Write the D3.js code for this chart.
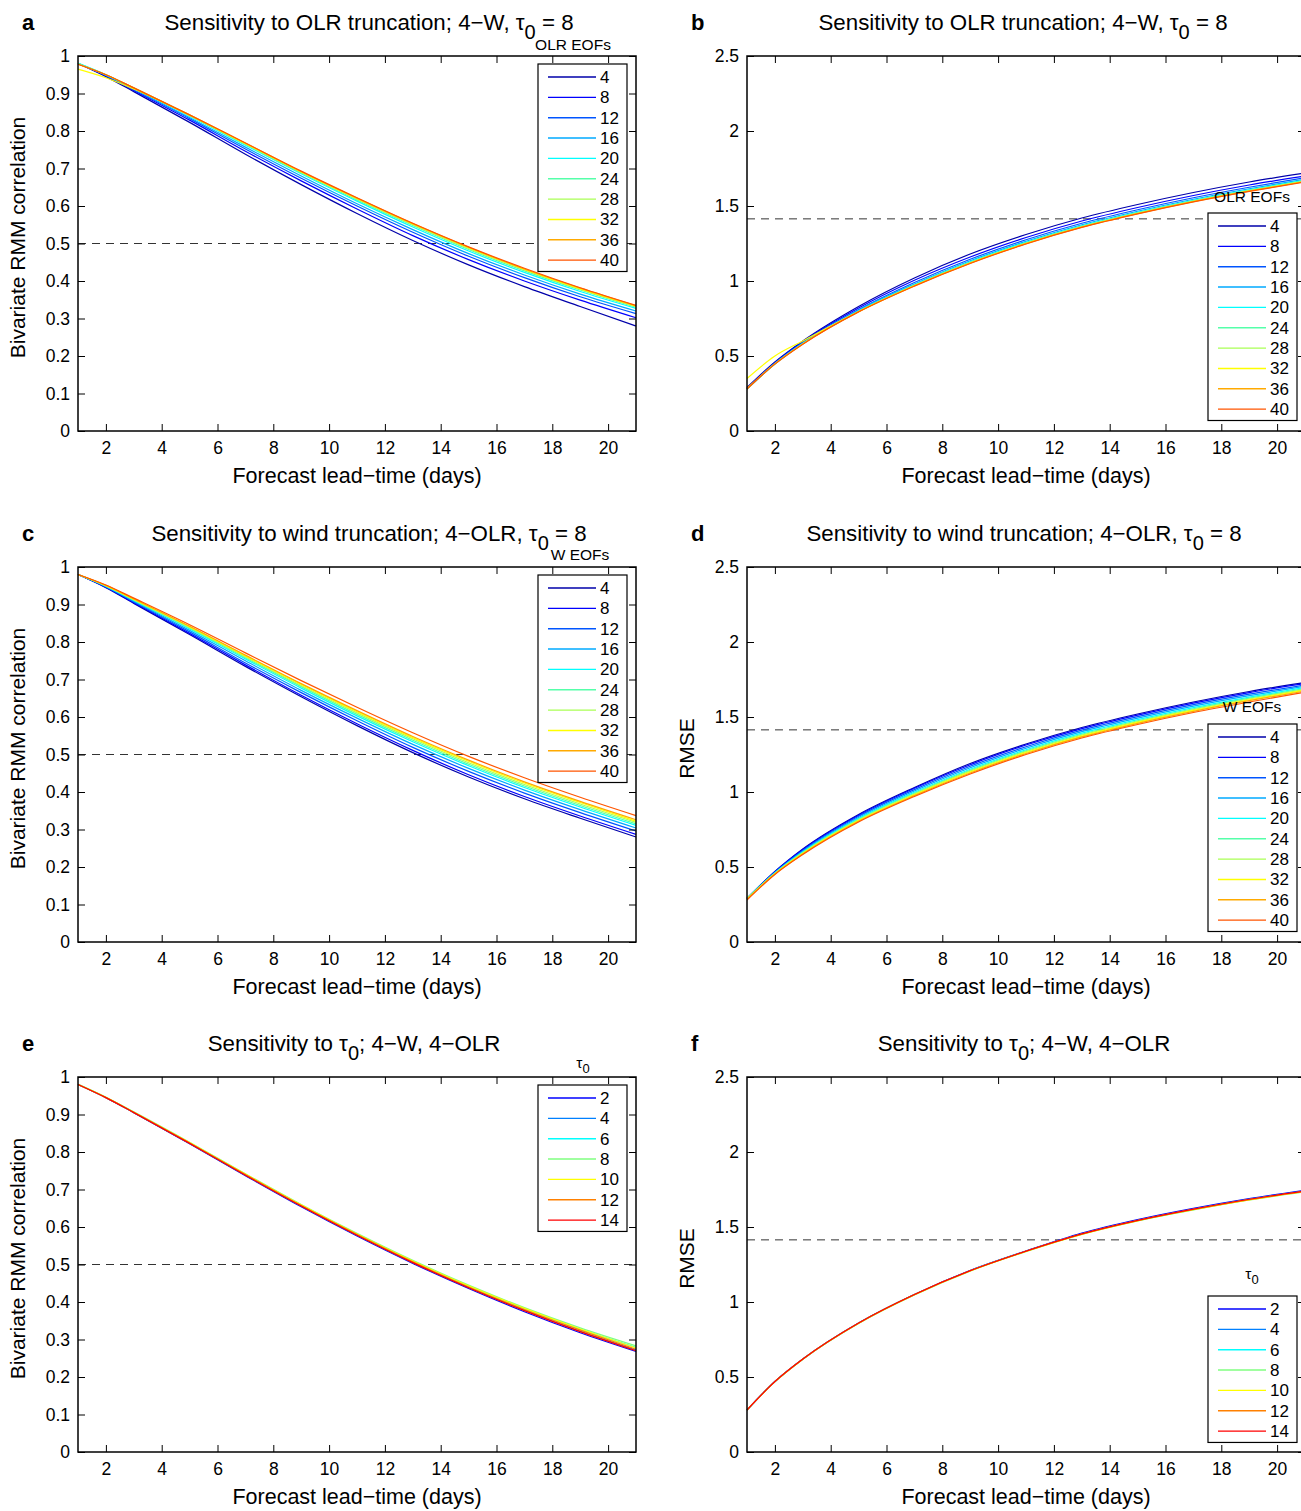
<!DOCTYPE html>
<html>
<head>
<meta charset="utf-8">
<title>Truncation sensitivity</title>
<script src="https://d3js.org/d3.v7.min.js"></script>
<style>
  body { margin: 0; background: #fff; }
  svg { display: block; font-family: "Liberation Sans", Arial, Helvetica, sans-serif; }
</style>
</head>
<body>
<div id="fig"></div>
<script>
// lead times (days) the curves are read at
var leadDays = [1, 2, 3, 5, 7, 9, 11, 13, 15, 17, 19, 21];
var dayTicks = [2, 4, 6, 8, 10, 12, 14, 16, 18, 20];
var corrTicks = [0, 0.1, 0.2, 0.3, 0.4, 0.5, 0.6, 0.7, 0.8, 0.9, 1];
var corrTickLabels = ["0", "0.1", "0.2", "0.3", "0.4", "0.5", "0.6", "0.7", "0.8", "0.9", "1"];
var rmseTicks = [0, 0.5, 1, 1.5, 2, 2.5];
var rmseTickLabels = ["0", "0.5", "1", "1.5", "2", "2.5"];

var eofCounts = [4, 8, 12, 16, 20, 24, 28, 32, 36, 40];
var tauValues = [2, 4, 6, 8, 10, 12, 14];

// jet colormaps as matlab draws them
var jet10 = ["#0000aa", "#0000ff", "#0055ff", "#00aaff", "#00ffff",
             "#55ffaa", "#aaff55", "#ffff00", "#ffaa00", "#ff5500"];
var jet7 = ["#0000ff", "#0080ff", "#00ffff", "#80ff80", "#ffff00", "#ff8000", "#ff0000"];

// a: correlation, OLR truncation
var corrOlr = [
  [0.98, 0.945, 0.905, 0.823, 0.738, 0.657, 0.58, 0.508, 0.443, 0.385, 0.332, 0.28],
  [0.98, 0.947, 0.908, 0.829, 0.746, 0.667, 0.592, 0.521, 0.457, 0.4, 0.349, 0.302],
  [0.98, 0.948, 0.91, 0.833, 0.752, 0.674, 0.6, 0.53, 0.466, 0.409, 0.358, 0.313],
  [0.98, 0.949, 0.912, 0.836, 0.757, 0.68, 0.606, 0.537, 0.473, 0.416, 0.365, 0.32],
  [0.981, 0.95, 0.914, 0.84, 0.762, 0.686, 0.613, 0.544, 0.48, 0.423, 0.372, 0.327],
  [0.98, 0.95, 0.914, 0.841, 0.764, 0.688, 0.616, 0.548, 0.484, 0.427, 0.376, 0.33],
  [0.979, 0.95, 0.915, 0.842, 0.766, 0.69, 0.619, 0.551, 0.487, 0.43, 0.378, 0.332],
  [0.965, 0.942, 0.912, 0.842, 0.766, 0.691, 0.62, 0.552, 0.489, 0.431, 0.379, 0.333],
  [0.978, 0.95, 0.915, 0.843, 0.768, 0.692, 0.621, 0.553, 0.49, 0.432, 0.381, 0.334],
  [0.978, 0.95, 0.915, 0.843, 0.768, 0.693, 0.622, 0.554, 0.491, 0.434, 0.382, 0.335]
];
// b: rmse, OLR truncation
var rmseOlr = [
  [0.29, 0.46, 0.6, 0.83, 1.02, 1.18, 1.31, 1.42, 1.51, 1.59, 1.66, 1.72],
  [0.285, 0.455, 0.595, 0.82, 1.005, 1.16, 1.29, 1.4, 1.49, 1.57, 1.64, 1.70],
  [0.28, 0.45, 0.59, 0.81, 0.99, 1.145, 1.275, 1.385, 1.475, 1.555, 1.625, 1.688],
  [0.28, 0.45, 0.585, 0.805, 0.98, 1.135, 1.265, 1.375, 1.465, 1.545, 1.615, 1.678],
  [0.28, 0.448, 0.583, 0.8, 0.975, 1.128, 1.258, 1.368, 1.458, 1.538, 1.608, 1.672],
  [0.28, 0.447, 0.582, 0.798, 0.972, 1.124, 1.254, 1.364, 1.455, 1.535, 1.605, 1.669],
  [0.28, 0.447, 0.581, 0.796, 0.97, 1.122, 1.252, 1.362, 1.452, 1.532, 1.602, 1.666],
  [0.35, 0.5, 0.6, 0.796, 0.969, 1.12, 1.25, 1.36, 1.45, 1.53, 1.6, 1.664],
  [0.285, 0.448, 0.58, 0.795, 0.968, 1.119, 1.249, 1.359, 1.449, 1.529, 1.599, 1.663],
  [0.28, 0.446, 0.579, 0.794, 0.966, 1.117, 1.247, 1.357, 1.447, 1.527, 1.597, 1.66]
];
// c: correlation, wind truncation
var corrWind = [
  [0.98, 0.945, 0.903, 0.82, 0.735, 0.654, 0.577, 0.505, 0.44, 0.382, 0.33, 0.28],
  [0.98, 0.946, 0.905, 0.823, 0.739, 0.658, 0.582, 0.511, 0.446, 0.388, 0.336, 0.287],
  [0.98, 0.947, 0.907, 0.827, 0.744, 0.665, 0.59, 0.519, 0.455, 0.397, 0.345, 0.296],
  [0.98, 0.948, 0.909, 0.831, 0.75, 0.671, 0.597, 0.527, 0.463, 0.405, 0.353, 0.304],
  [0.98, 0.949, 0.911, 0.835, 0.755, 0.677, 0.603, 0.534, 0.47, 0.412, 0.36, 0.311],
  [0.98, 0.95, 0.912, 0.837, 0.758, 0.681, 0.607, 0.538, 0.474, 0.416, 0.364, 0.315],
  [0.98, 0.95, 0.913, 0.839, 0.761, 0.684, 0.611, 0.542, 0.478, 0.42, 0.368, 0.319],
  [0.98, 0.95, 0.914, 0.841, 0.763, 0.687, 0.614, 0.545, 0.482, 0.424, 0.372, 0.322],
  [0.98, 0.951, 0.915, 0.842, 0.765, 0.689, 0.617, 0.548, 0.485, 0.427, 0.375, 0.326],
  [0.98, 0.952, 0.917, 0.846, 0.771, 0.697, 0.626, 0.558, 0.495, 0.438, 0.386, 0.337]
];
// d: rmse, wind truncation
var rmseWind = [
  [0.29, 0.47, 0.62, 0.85, 1.03, 1.19, 1.32, 1.43, 1.52, 1.6, 1.67, 1.73],
  [0.29, 0.468, 0.616, 0.845, 1.025, 1.182, 1.313, 1.423, 1.513, 1.593, 1.663, 1.723],
  [0.29, 0.465, 0.61, 0.838, 1.016, 1.172, 1.302, 1.412, 1.502, 1.582, 1.652, 1.714],
  [0.29, 0.462, 0.605, 0.83, 1.007, 1.162, 1.292, 1.402, 1.492, 1.572, 1.642, 1.705],
  [0.29, 0.46, 0.6, 0.823, 0.998, 1.152, 1.282, 1.392, 1.482, 1.562, 1.632, 1.697],
  [0.29, 0.458, 0.596, 0.818, 0.992, 1.145, 1.275, 1.385, 1.475, 1.555, 1.626, 1.69],
  [0.29, 0.456, 0.593, 0.813, 0.986, 1.139, 1.269, 1.379, 1.469, 1.549, 1.62, 1.684],
  [0.285, 0.455, 0.59, 0.809, 0.981, 1.133, 1.263, 1.373, 1.464, 1.544, 1.615, 1.679],
  [0.285, 0.453, 0.587, 0.805, 0.976, 1.127, 1.257, 1.367, 1.458, 1.538, 1.609, 1.673],
  [0.28, 0.45, 0.583, 0.8, 0.97, 1.12, 1.25, 1.36, 1.45, 1.53, 1.6, 1.665]
];
// e: correlation, tau0
var corrTau = [
  [0.98, 0.945, 0.905, 0.822, 0.737, 0.654, 0.576, 0.503, 0.436, 0.374, 0.318, 0.268],
  [0.98, 0.945, 0.905, 0.823, 0.738, 0.656, 0.578, 0.505, 0.439, 0.378, 0.322, 0.272],
  [0.98, 0.946, 0.906, 0.824, 0.74, 0.658, 0.58, 0.508, 0.442, 0.382, 0.327, 0.279],
  [0.981, 0.946, 0.907, 0.826, 0.742, 0.66, 0.583, 0.511, 0.445, 0.385, 0.331, 0.283],
  [0.98, 0.946, 0.906, 0.825, 0.741, 0.659, 0.581, 0.509, 0.443, 0.383, 0.328, 0.278],
  [0.98, 0.945, 0.906, 0.824, 0.74, 0.657, 0.58, 0.507, 0.44, 0.38, 0.325, 0.274],
  [0.98, 0.945, 0.905, 0.823, 0.738, 0.656, 0.578, 0.505, 0.438, 0.377, 0.321, 0.27]
];
// f: rmse, tau0
var rmseTau = [
  [0.28, 0.47, 0.62, 0.86, 1.05, 1.21, 1.34, 1.46, 1.55, 1.625, 1.69, 1.745],
  [0.28, 0.47, 0.62, 0.86, 1.05, 1.21, 1.34, 1.455, 1.545, 1.62, 1.686, 1.742],
  [0.28, 0.469, 0.619, 0.859, 1.049, 1.208, 1.338, 1.452, 1.542, 1.616, 1.682, 1.737],
  [0.28, 0.468, 0.618, 0.857, 1.047, 1.206, 1.336, 1.45, 1.54, 1.614, 1.68, 1.734],
  [0.28, 0.469, 0.619, 0.858, 1.048, 1.207, 1.337, 1.451, 1.541, 1.615, 1.681, 1.736],
  [0.28, 0.469, 0.619, 0.859, 1.049, 1.208, 1.338, 1.452, 1.542, 1.617, 1.683, 1.738],
  [0.28, 0.47, 0.62, 0.86, 1.05, 1.209, 1.339, 1.454, 1.544, 1.619, 1.685, 1.74]
];

var W = 1301, H = 1511;
var svg = d3.select("#fig").append("svg").attr("width", W).attr("height", H);

var colX = [78, 747], plotW = 558;
var rowY = [56, 567, 1077], plotH = 375;

var panels = [
  {id: "a", col: 0, row: 0, title: ["Sensitivity to OLR truncation; 4\u2212W, \u03c4", "0", " = 8"], tcx: 369,
   kind: "corr", data: corrOlr, names: eofCounts, colors: jet10, legTitle: "OLR EOFs", legTx: 573, legTy: 50,
   legX: 538, legY: 64, ylabel: "Bivariate RMM correlation"},
  {id: "b", col: 1, row: 0, title: ["Sensitivity to OLR truncation; 4\u2212W, \u03c4", "0", " = 8"], tcx: 1023,
   kind: "rmse", data: rmseOlr, names: eofCounts, colors: jet10, legTitle: "OLR EOFs", legTx: 1252, legTy: 202,
   legX: 1208, legY: 213, ylabel: null},
  {id: "c", col: 0, row: 1, title: ["Sensitivity to wind truncation; 4\u2212OLR, \u03c4", "0", " = 8"], tcx: 369,
   kind: "corr", data: corrWind, names: eofCounts, colors: jet10, legTitle: "W EOFs", legTx: 580, legTy: 560,
   legX: 538, legY: 575, ylabel: "Bivariate RMM correlation"},
  {id: "d", col: 1, row: 1, title: ["Sensitivity to wind truncation; 4\u2212OLR, \u03c4", "0", " = 8"], tcx: 1024,
   kind: "rmse", data: rmseWind, names: eofCounts, colors: jet10, legTitle: "W EOFs", legTx: 1252, legTy: 712,
   legX: 1208, legY: 724, ylabel: "RMSE"},
  {id: "e", col: 0, row: 2, title: ["Sensitivity to \u03c4", "0", "; 4\u2212W, 4\u2212OLR"], tcx: 354,
   kind: "corr", data: corrTau, names: tauValues, colors: jet7, legTitle: "tau", legTx: 583, legTy: 1068,
   legX: 538, legY: 1085, ylabel: "Bivariate RMM correlation"},
  {id: "f", col: 1, row: 2, title: ["Sensitivity to \u03c4", "0", "; 4\u2212W, 4\u2212OLR"], tcx: 1024,
   kind: "rmse", data: rmseTau, names: tauValues, colors: jet7, legTitle: "tau", legTx: 1252, legTy: 1279,
   legX: 1208, legY: 1296, ylabel: "RMSE"}
];

panels.forEach(function(p) {
  var x0 = colX[p.col], y0 = rowY[p.row];
  var g = svg.append("g").attr("transform", "translate(" + x0 + "," + y0 + ")");

  var x = d3.scaleLinear().domain([1, 21]).range([0, plotW]);
  var y = p.kind == "corr"
    ? d3.scaleLinear().domain([0, 1]).range([plotH, 0])
    : d3.scaleLinear().domain([0, 2.5]).range([plotH, 0]);
  var yt = p.kind == "corr" ? corrTicks : rmseTicks;
  var ytl = p.kind == "corr" ? corrTickLabels : rmseTickLabels;

  // dashed reference line (0.5 correlation / sqrt 2 rmse)
  var ref = p.kind == "corr" ? 0.5 : Math.SQRT2;
  g.append("line")
    .attr("x1", 0).attr("x2", plotW)
    .attr("y1", y(ref)).attr("y2", y(ref))
    .attr("stroke", "#333").attr("stroke-width", 1)
    .attr("stroke-dasharray", "8,6");

  var line = d3.line()
    .x(function(d, i) { return x(leadDays[i]); })
    .y(function(d) { return y(d); })
    .curve(d3.curveMonotoneX);

  g.selectAll(".series")
    .data(p.data)
    .enter().append("path")
      .attr("d", function(d) { return line(d); })
      .attr("fill", "none")
      .attr("stroke", function(d, i) { return p.colors[i]; })
      .attr("stroke-width", 1.2);

  // axes, ticks pointing inward like matlab
  var bottom = g.append("g").attr("transform", "translate(0," + plotH + ")")
    .call(d3.axisBottom(x).tickValues(dayTicks).tickSize(-7).tickSizeOuter(0).tickPadding(8));
  var top = g.append("g")
    .call(d3.axisTop(x).tickValues(dayTicks).tickSize(-7).tickSizeOuter(0).tickFormat(""));
  var left = g.append("g")
    .call(d3.axisLeft(y).tickValues(yt).tickSize(-7).tickSizeOuter(0).tickPadding(8)
      .tickFormat(function(d, i) { return ytl[i]; }));
  var right = g.append("g").attr("transform", "translate(" + plotW + ",0)")
    .call(d3.axisRight(y).tickValues(yt).tickSize(-7).tickSizeOuter(0).tickFormat(""));

  [bottom, top, left, right].forEach(function(a) {
    a.select(".domain").remove();
    a.selectAll("line").attr("stroke", "#000").attr("stroke-width", 1);
    a.selectAll("text").attr("font-size", 17.5).attr("fill", "#000")
      .attr("font-family", "Liberation Sans, Arial, sans-serif");
  });
  bottom.selectAll("text").attr("dy", "0.85em");

  g.append("rect")
    .attr("width", plotW).attr("height", plotH)
    .attr("fill", "none").attr("stroke", "#000").attr("stroke-width", 1.5);

  // title with subscript
  var t = svg.append("text")
    .attr("x", p.tcx).attr("y", y0 - 26)
    .attr("text-anchor", "middle").attr("font-size", 22.3);
  t.append("tspan").text(p.title[0]);
  t.append("tspan").attr("dy", 9).attr("font-size", 20).text(p.title[1]);
  t.append("tspan").attr("dy", -9).text(p.title[2]);

  // panel letter
  svg.append("text")
    .attr("x", x0 - 56).attr("y", y0 - 26)
    .attr("font-size", 22).attr("font-weight", "bold")
    .text(p.id);

  // axis labels
  svg.append("text")
    .attr("x", x0 + plotW / 2).attr("y", y0 + plotH + 52)
    .attr("text-anchor", "middle").attr("font-size", 21.5)
    .text("Forecast lead\u2212time (days)");
  if (p.ylabel) {
    svg.append("text")
      .attr("transform", "translate(" + (x0 - 53) + "," + (y0 + plotH / 2 - 6) + ") rotate(-90)")
      .attr("text-anchor", "middle").attr("font-size", 21)
      .text(p.ylabel);
  }

  // legend
  var n = p.names.length, step = 20.35;
  var lg = svg.append("g").attr("transform", "translate(" + p.legX + "," + p.legY + ")");
  lg.append("rect")
    .attr("width", 89).attr("height", n * step + 4)
    .attr("fill", "#fff").attr("stroke", "#000").attr("stroke-width", 1.2);
  p.names.forEach(function(nm, i) {
    var yy = 13 + i * step;
    lg.append("line")
      .attr("x1", 10).attr("x2", 58).attr("y1", yy).attr("y2", yy)
      .attr("stroke", p.colors[i]).attr("stroke-width", 1.4);
    lg.append("text")
      .attr("x", 62).attr("y", yy + 6)
      .attr("font-size", 17).text(nm);
  });

  // legend title
  var lt = svg.append("text")
    .attr("x", p.legTx).attr("y", p.legTy)
    .attr("text-anchor", "middle").attr("font-size", 15.5);
  if (p.legTitle == "tau") {
    lt.append("tspan").text("\u03c4");
    lt.append("tspan").attr("dy", 5).attr("font-size", 13).text("0");
  } else {
    lt.text(p.legTitle);
  }
});
</script>
</body>
</html>
